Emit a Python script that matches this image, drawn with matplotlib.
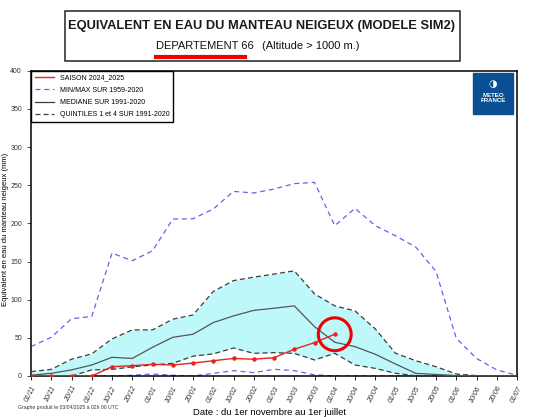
#!/usr/bin/env python3
"""Snow water equivalent, departement 66, SIM2 model."""

import matplotlib.pyplot as plt
from matplotlib.patches import Rectangle

DATES = ["01/11", "10/11", "20/11", "01/12", "10/12", "20/12", "01/01", "10/01",
         "20/01", "01/02", "10/02", "20/02", "01/03", "10/03", "20/03", "01/04",
         "10/04", "20/04", "01/05", "10/05", "20/05", "01/06", "10/06", "20/06",
         "01/07"]

# min/max 1959-2020
MAX = [38.5, 50.7, 75, 78, 161, 151, 164, 205.6, 206, 218.7, 241.9, 239.7, 245,
       252, 253.7, 197, 219.6, 197, 183.7, 168.9, 137, 49.4, 23, 8, 1]
MIN = [0, 0, 0, 0, 0, 1, 2.6, 1, 0, 3.5, 7, 4.4, 8.8, 7, 1.5, 0, 0, 0, 0, 0, 0,
       0, 0, 0, 0]
# quintiles 1 and 4, median 1991-2020
Q4 = [5.7, 8.7, 22, 29, 48.6, 60.4, 60.4, 74.4, 80, 110.7, 125, 129.5, 133.5,
      137.8, 107.6, 91.9, 85.3, 61.7, 29.8, 20, 12.2, 2.6, 0.5, 0, 0]
Q1 = [0.5, 0, 0, 8, 8.7, 12, 14.4, 16.6, 26, 29, 36.7, 29.7, 30.6, 29.7, 21,
      29.7, 14.4, 10, 3.5, 0.4, 0, 0, 0, 0, 0]
MEDIAN = [1, 3.5, 8, 14.4, 24.5, 23, 37.6, 50.7, 54.7, 70, 78.7, 86, 88.8, 91.9,
          64.7, 44.2, 38.5, 28.5, 15.7, 3.5, 2, 0.5, 0, 0, 0]
# season 2024_2025 (up to 01/04)
SEASON = [0, 0.5, 0, 0, 12.2, 13.5, 15.3, 14.4, 17, 20, 23, 22, 24, 35, 43.7,
          54.7]

RED = "#E8231E"
BLUE = "#6262F0"
DARK = "#3C3C3C"
CYAN = "#BFF8FB"

plt.rcParams["font.family"] = ["Liberation Sans", "DejaVu Sans"]

fig = plt.figure(figsize=(5.38, 4.17), dpi=100)
ax = fig.add_axes([31 / 538, 1 - 376 / 417, (517 - 31) / 538, (376 - 70.7) / 417])

x = list(range(len(DATES)))
xs = x[:len(SEASON)]

ax.fill_between(x, Q1, Q4, color=CYAN, lw=0, zorder=1)
ax.plot(x, MAX, color=BLUE, lw=0.9, ls=(0, (4, 3)), zorder=2)
ax.plot(x, MIN, color=BLUE, lw=0.9, ls=(0, (4, 3)), zorder=2)
ax.plot(x, Q4, color=DARK, lw=0.9, ls=(0, (4, 2.5)), zorder=3)
ax.plot(x, Q1, color=DARK, lw=0.9, ls=(0, (4, 2.5)), zorder=3)
ax.plot(x, MEDIAN, color="#555555", lw=0.9, zorder=3)
ax.plot(xs, SEASON, color=RED, lw=1.0, marker="o", ms=2.2, zorder=4)
ax.scatter([xs[-1]], [SEASON[-1]], s=560, facecolors="none", edgecolors="#F20000",
           linewidths=2.2, zorder=5)

# legend handles
h_season, = ax.plot([], [], color=RED, lw=1.0)
h_minmax, = ax.plot([], [], color=BLUE, lw=0.9, ls=(0, (4, 3)))
h_med, = ax.plot([], [], color=DARK, lw=0.9)
h_q, = ax.plot([], [], color=DARK, lw=0.9, ls=(0, (4, 2.5)))
leg = ax.legend([h_season, h_minmax, h_med, h_q],
                ["SAISON 2024_2025", "MIN/MAX SUR 1959-2020", "MEDIANE SUR 1991-2020",
                 "QUINTILES 1 et 4 SUR 1991-2020"],
                loc="upper left", fontsize=5, fancybox=False, framealpha=1,
                edgecolor="black", borderaxespad=0, handlelength=2.8,
                labelspacing=0.75, borderpad=0.55)
leg.get_frame().set_linewidth(1.0)

ax.set_xlim(0, 24)
ax.set_ylim(0, 400)
ax.set_yticks(range(0, 401, 50))
ax.set_xticks(x)
ax.set_xticklabels(DATES, rotation=62, ha="right", va="top", rotation_mode="anchor",
                   fontsize=5, style="italic", color="#333333")
ax.tick_params(axis="y", labelsize=5, length=3, width=0.6, colors="#333333")
ax.tick_params(axis="x", length=3, width=0.6)
for s in ax.spines.values():
    s.set_linewidth(1.1)
ax.set_ylabel("Equivalent en eau du manteau neigeux (mm)", fontsize=5.5)
ax.yaxis.set_label_coords(-0.045, 0.48)
ax.set_xlabel("Date : du 1er novembre au 1er juillet", fontsize=6.8)
ax.xaxis.set_label_coords(0.49, -0.105)

# title box
fig.add_artist(Rectangle((65 / 538, 1 - 61 / 417), 395 / 538, 50 / 417,
                         transform=fig.transFigure, fill=False, ec="#222222", lw=1.1))
fig.text(262 / 538, 1 - 26 / 417, "EQUIVALENT EN EAU DU MANTEAU NEIGEUX (MODELE SIM2)",
         ha="center", va="center", fontsize=9.3, fontweight="bold", color="#1a1a1a")
fig.text(156 / 538, 1 - 46 / 417, "DEPARTEMENT 66", ha="left", va="center",
         fontsize=8.0, color="#111111")
fig.text(262 / 538, 1 - 46 / 417, "(Altitude > 1000 m.)", ha="left", va="center",
         fontsize=8.0, color="#111111")
fig.add_artist(plt.Line2D([156 / 538, 245 / 538], [1 - 57 / 417, 1 - 57 / 417],
                          transform=fig.transFigure, color="#F00000", lw=3))

# logo
fig.add_artist(Rectangle((473 / 538, 1 - 114 / 417), 40 / 538, 41 / 417,
                         transform=fig.transFigure, color="#0A4F94", zorder=10))
fig.text(493 / 538, 1 - 84 / 417, "\u25d1", ha="center", va="center", fontsize=7,
         color="white", family="DejaVu Sans", zorder=11)
fig.text(493 / 538, 1 - 98 / 417, "METEO\nFRANCE", ha="center", va="center",
         fontsize=4.4, fontweight="bold", color="white", linespacing=1.0, zorder=11)

fig.text(18 / 538, 1 - 408 / 417, "Graphe produit le 03/04/2025 à 02h 00 UTC",
         ha="left", va="center", fontsize=3.7, color="#333333")

fig.savefig("out.png", dpi=100)
